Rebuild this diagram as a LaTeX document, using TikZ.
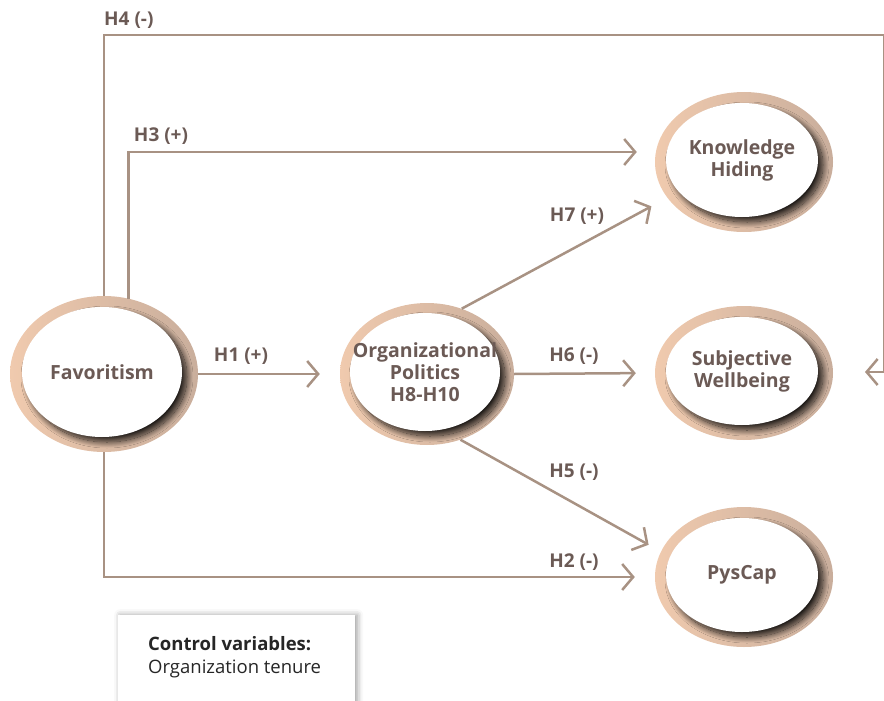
\documentclass[tikz,border=0pt]{standalone}
\usepackage{fontspec}
\setmainfont{Open Sans}
\usetikzlibrary{arrows.meta,shapes.geometric,shadows.blur}
\definecolor{linec}{HTML}{A89283}
\definecolor{textc}{HTML}{6B5A55}
\definecolor{peach}{HTML}{F0CAAE}
\definecolor{tan}{HTML}{C9AE9C}
\tikzset{
  ring/.style={ellipse, inner sep=0pt, left color=peach, right color=tan},
  core/.style={ellipse, inner sep=0pt, fill=white,
    blur shadow={shadow xshift=5pt, shadow yshift=-5pt, shadow blur radius=6pt,
      shadow blur steps=20, shadow opacity=85}},
  ctext/.style={align=center, text=textc, inner sep=0pt,
    font=\fontsize{19.5}{22}\selectfont\bfseries},
  conn/.style={draw=linec, line width=2.5pt, -{Straight Barb[length=11pt,width=26pt,line width=2.5pt]}},
  lab/.style={text=textc, font=\fontsize{19}{22}\selectfont\bfseries, inner sep=0pt},
}
\begin{document}
\begin{tikzpicture}[x=1pt,y=-1pt]
\useasboundingbox (0,0) rectangle (884,701);
% ellipses
\node[ring, minimum width=188pt, minimum height=156pt] (fav) at (104,374) {};
\node[core, minimum width=160pt, minimum height=130pt] (favc) at (102,372) {};
\node[ctext] (favt) at (favc) {Favoritism};
\node[ring, minimum width=174pt, minimum height=142pt] (op) at (427,374) {};
\node[core, minimum width=150pt, minimum height=118pt] (opc) at (425,372) {};
\node[ctext] (opt) at (opc) {Organizational\\Politics\\H8-H10};
\node[ring, minimum width=178pt, minimum height=140pt] (kh) at (744,162) {};
\node[core, minimum width=152pt, minimum height=114pt] (khc) at (742,160) {};
\node[ctext] (kht) at (khc) {Knowledge\\Hiding};
\node[ring, minimum width=178pt, minimum height=134pt] (sw) at (744,373) {};
\node[core, minimum width=152pt, minimum height=108pt] (swc) at (742,371) {};
\node[ctext] (swt) at (swc) {Subjective\\Wellbeing};
\node[ring, minimum width=178pt, minimum height=140pt] (ps) at (744,577) {};
\node[core, minimum width=152pt, minimum height=114pt] (psc) at (742,575) {};
\node[ctext] (pst) at (psc) {PysCap};
% corner points of H4
\coordinate (h4a) at (884,35);
\coordinate (h4b) at (884,372);
\coordinate (h4tip) at (865,372);
% connectors
\draw[conn] (fav.north) |- (h4a) -- (h4b) -- (h4tip);
\draw[conn, shorten >=18pt] (fav.72) |- ([yshift=10pt]kh.west);
\draw[conn, shorten >=20pt] (fav.east) -- (op.west);
\draw[conn, shorten >=19pt] (op.east) -- (sw.west);
\draw[conn, shorten >=18pt] (op.62) -- (kh.205);
\draw[conn, shorten >=14pt] (op.297) -- (ps.163);
\draw[conn, shorten >=20pt] (fav.south) |- (ps.west);
% labels
\node[lab, anchor=west] (l4) at (104,20) {H4 (-)};
\node[lab] (l3) at (161,136) {H3 (+)};
\node[lab] (l1) at (241,356) {H1 (+)};
\node[lab] (l7) at (577,216) {H7 (+)};
\node[lab] (l6) at (574,356) {H6 (-)};
\node[lab] (l5) at (574,472) {H5 (-)};
\node[lab] (l2) at (574,562) {H2 (-)};
% control box
\node[draw=none, fill=white, minimum width=237pt, minimum height=100pt, anchor=north west,
  blur shadow={shadow xshift=2pt, shadow yshift=0pt, shadow blur radius=6pt, shadow opacity=40}] (cv) at (118,615) {};
\node[anchor=north west, align=left, inner sep=0pt, text=black!85,
  font=\fontsize{18.5}{23}\selectfont] (cvt) at (148,636) {\textbf{Control variables:}\\Organization tenure};
\end{tikzpicture}
\end{document}
